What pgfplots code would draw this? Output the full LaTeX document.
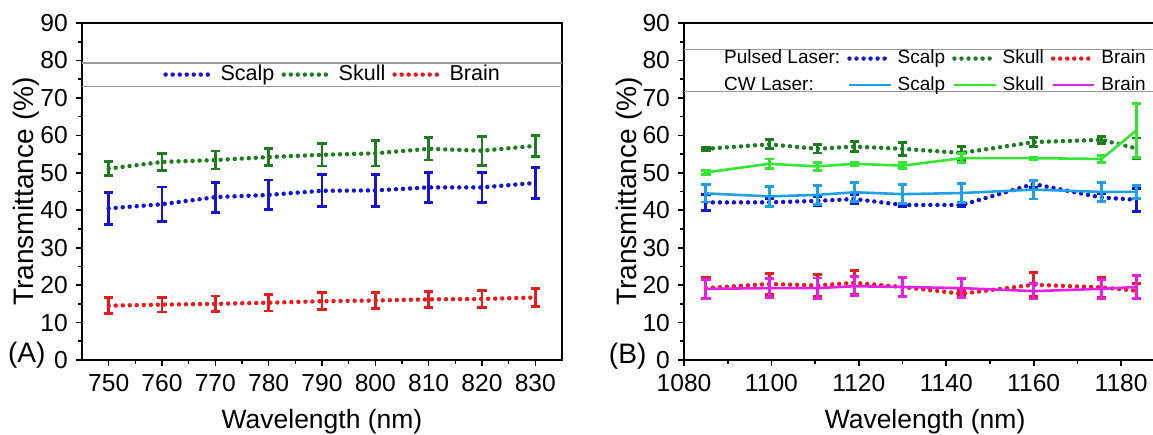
\documentclass[border=0pt]{standalone}
\usepackage{fontspec}
\setmainfont{Liberation Sans}
\usepackage{pgfplots}
\pgfplotsset{compat=1.18}

\definecolor{scalpP}{HTML}{1414D2}
\definecolor{skullP}{HTML}{1E7D1E}
\definecolor{brainP}{HTML}{E81C1C}
\definecolor{scalpC}{HTML}{1EA0E6}
\definecolor{skullC}{HTML}{32E632}
\definecolor{brainC}{HTML}{E61EE6}

\pgfplotsset{
  dotline/.style={line width=1.9pt, dash pattern=on 0pt off 3pt, line cap=round},
  cwline/.style={line width=1.1pt, solid},
  ebar/.style={error bars/.cd, y dir=both, y explicit, error mark=|,
    error bar style={solid, line width=1.2pt, line cap=butt},
    error mark options={solid, line width=1.2pt, mark size=2pt},
    /pgfplots/.cd},
  panel/.style={
    scale only axis, anchor=south west, clip mode=individual,
    height=5.055cm,
    ymin=0, ymax=90, ytick={0,10,...,90},
    minor tick num=1,
    tick align=outside, xtick pos=bottom, ytick pos=left,
    major tick length=2.5pt, minor tick length=1.5pt,
    axis line style={line width=0.8pt, black},
    every tick/.style={black, line width=0.7pt},
    tick label style={font=\fontsize{10.5}{12}\selectfont},
    /pgf/number format/assume math mode=true,
    /pgf/number format/1000 sep={},
    xlabel style={font=\fontsize{11.3}{13}\selectfont},
    ylabel style={font=\fontsize{12}{14}\selectfont},
    ylabel={Transmittance (\%)},
    xlabel={Wavelength (nm)},
    ylabel style={at={(axis description cs:-0.117,0.5)}, anchor=center},
    legend cell align=left,
    legend style={draw=none, fill=none,
      /tikz/every even column/.append style={column sep=1pt}},
  },
}

\begin{document}
\begin{tikzpicture}
\path[use as bounding box] (0,0) rectangle (17.295cm,6.51cm);

% (A) 750-830 nm
\begin{axis}[panel,
  at={(1.23cm,1.11cm)}, width=7.2cm,
  xmin=745, xmax=835, xtick={750,760,...,830},
  xlabel style={at={(axis description cs:0.5,-0.184)}, anchor=center},
  legend columns=3,
  legend image code/.code={\draw[#1] (0cm,0cm) -- (0.72cm,0cm);},
  legend style={at={(axis description cs:0.525,0.847)}, anchor=center,
    font=\fontsize{9.2}{10}\selectfont},
]
\draw[gray!80, line width=0.6pt] (axis cs:745,79.3) -- (axis cs:835,79.3);
\draw[gray!80, line width=0.6pt] (axis cs:745,73.1) -- (axis cs:835,73.1);
\addplot[scalpP, dotline, ebar] coordinates {
  (750,40.5) +- (0,4.3) (760,41.6) +- (0,4.6) (770,43.5) +- (0,4.0)
  (780,44.1) +- (0,4.0) (790,45.2) +- (0,4.3) (800,45.3) +- (0,4.3)
  (810,46.1) +- (0,4.0) (820,46.1) +- (0,4.0) (830,47.3) +- (0,4.1)};
\addplot[skullP, dotline, ebar] coordinates {
  (750,51.1) +- (0,1.9) (760,52.9) +- (0,2.3) (770,53.4) +- (0,2.4)
  (780,54.2) +- (0,2.3) (790,54.8) +- (0,3.0) (800,55.2) +- (0,3.4)
  (810,56.4) +- (0,3.0) (820,55.9) +- (0,3.9) (830,57.2) +- (0,2.8)};
\addplot[brainP, dotline, ebar] coordinates {
  (750,14.5) +- (0,2.1) (760,14.8) +- (0,2.0) (770,15.0) +- (0,2.1)
  (780,15.3) +- (0,2.2) (790,15.7) +- (0,2.3) (800,15.9) +- (0,2.2)
  (810,16.2) +- (0,2.2) (820,16.3) +- (0,2.3) (830,16.7) +- (0,2.5)};
\legend{Scalp,Skull,Brain}
\node[font=\fontsize{12}{14}\selectfont] at (axis description cs:-0.115,0.015) {(A)};
\end{axis}

% (B) 1080-1190 nm
\begin{axis}[panel,
  at={(10.26cm,1.11cm)}, width=7.035cm,
  axis x line*=box, axis y line*=left,
  xtick pos=bottom, ytick pos=left,
  xmin=1080, xmax=1187.3, xtick={1080,1100,...,1180},
  xlabel style={at={(axis description cs:0.514,-0.184)}, anchor=center},
  legend columns=4,
  legend image code/.code={\draw[#1] (0cm,0cm) -- (0.62cm,0cm);},
  legend style={at={(axis description cs:0.535,0.855)}, anchor=center,
    font=\fontsize{8.1}{9}\selectfont,
    /tikz/every odd column/.append style={column sep=0pt}},
]
\draw[gray!80, line width=0.6pt] (axis cs:1080,82.9) -- (axis cs:1187.3,82.9);
\draw[gray!80, line width=0.6pt] (axis cs:1080,71.7) -- (axis cs:1187.3,71.7);
% pulsed laser
\addplot[scalpP, dotline, ebar, forget plot] coordinates {
  (1085,42.1) +- (0,2.2) (1099.5,42.1) +- (0,1.0) (1110.5,42.5) +- (0,1.2)
  (1119,43.0) +- (0,1.2) (1130,41.4) +- (0,0.5) (1143.5,41.4) +- (0,0.5)
  (1160,47.0) +- (0,1.0) (1175.5,43.4) +- (0,1.0) (1183.5,42.8) +- (0,3.1)};
\addplot[skullP, dotline, ebar, forget plot] coordinates {
  (1085,56.4) +- (0,0.4) (1099.5,57.6) +- (0,1.2) (1110.5,56.4) +- (0,1.1)
  (1119,57.0) +- (0,1.3) (1130,56.4) +- (0,1.7) (1143.5,55.3) +- (0,1.7)
  (1160,58.2) +- (0,1.2) (1175.5,58.8) +- (0,0.9) (1183.5,56.5) +- (0,2.8)};
\addplot[brainP, dotline, ebar, forget plot] coordinates {
  (1085,19.2) +- (0,2.9) (1099.5,20.3) +- (0,2.9) (1110.5,19.9) +- (0,3.0)
  (1119,20.6) +- (0,3.2) (1130,19.5) +- (0,2.5) (1143.5,17.7) +- (0,0.8)
  (1160,20.1) +- (0,3.2) (1175.5,19.4) +- (0,2.6) (1183.5,18.5) +- (0,2.0)};
% CW laser
\addplot[scalpC, cwline, ebar, forget plot] coordinates {
  (1085,44.5) +- (0,2.3) (1099.5,43.7) +- (0,2.7) (1110.5,44.1) +- (0,2.5)
  (1119,44.8) +- (0,2.5) (1130,44.3) +- (0,2.6) (1143.5,44.6) +- (0,2.6)
  (1160,45.5) +- (0,2.5) (1175.5,44.9) +- (0,2.5) (1183.5,44.9) +- (0,1.8)};
\addplot[skullC, cwline, ebar, forget plot] coordinates {
  (1085,50.1) +- (0,0.5) (1099.5,52.4) +- (0,1.3) (1110.5,51.7) +- (0,1.1)
  (1119,52.4) +- (0,0.5) (1130,51.9) +- (0,0.8) (1143.5,53.9) +- (0,1.2)
  (1160,53.9) +- (0,0.3) (1175.5,53.7) +- (0,1.0) (1183.5,61.3) +- (0,7.2)};
\addplot[brainC, cwline, ebar, forget plot] coordinates {
  (1085,19.0) +- (0,2.5) (1099.5,19.2) +- (0,2.6) (1110.5,19.2) +- (0,2.7)
  (1119,19.7) +- (0,2.5) (1130,19.5) +- (0,2.5) (1143.5,19.2) +- (0,2.5)
  (1160,18.4) +- (0,2.1) (1175.5,19.0) +- (0,2.5) (1183.5,19.5) +- (0,3.0)};
\addlegendimage{empty legend}\addlegendentry{Pulsed Laser:}
\addlegendimage{scalpP, dotline}\addlegendentry{Scalp}
\addlegendimage{skullP, dotline}\addlegendentry{Skull}
\addlegendimage{brainP, dotline}\addlegendentry{Brain}
\addlegendimage{empty legend}\addlegendentry{CW Laser:}
\addlegendimage{scalpC, cwline}\addlegendentry{Scalp}
\addlegendimage{skullC, cwline}\addlegendentry{Skull}
\addlegendimage{brainC, cwline}\addlegendentry{Brain}
\node[font=\fontsize{12}{14}\selectfont] at (axis description cs:-0.12,0.01) {(B)};
\end{axis}
\end{tikzpicture}
\end{document}
